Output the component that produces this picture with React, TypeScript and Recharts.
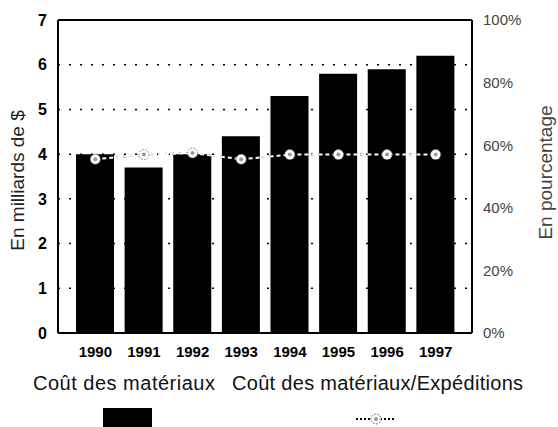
import React from "react";
import {
  ComposedChart,
  Bar,
  Line,
  XAxis,
  YAxis,
  CartesianGrid,
  ReferenceLine,
} from "recharts";

const years = ["1990", "1991", "1992", "1993", "1994", "1995", "1996", "1997"];
const materialCost = [4.0, 3.7, 4.0, 4.4, 5.3, 5.8, 5.9, 6.2];
const costShipRatio = [55.5, 57, 57.5, 55.5, 57, 57, 57, 57];
const leftTicks = [0, 1, 2, 3, 4, 5, 6, 7];
const rightTicks = [0, 20, 40, 60, 80, 100];

const data = years.map((y, i) => ({
  year: y,
  cost: materialCost[i],
  ratio: costShipRatio[i],
}));

const FONT = "'Liberation Sans', Arial, sans-serif";

const Marker = (props: any) => {
  const { cx, cy } = props;
  if (cx == null || cy == null) return null;
  return (
    <g>
      <circle cx={cx} cy={cy} r={5} fill="#fff" stroke="#777" strokeWidth={1} strokeDasharray="1.5 1.5" />
      <circle cx={cx} cy={cy} r={2} fill="#999" />
    </g>
  );
};

export default function App() {
  return (
    <div style={{ position: "absolute", left: 0, top: 0, width: 558, height: 427, background: "#fff", overflow: "hidden", fontFamily: FONT }}>
      <ComposedChart
        width={558}
        height={427}
        data={data}
        margin={{ top: 20, right: 0, left: 0, bottom: 64 }}
      >
        <CartesianGrid
          yAxisId="left"
          vertical={false}
          stroke="#000"
          strokeWidth={1.5}
          strokeDasharray="2 9"
        />
        <XAxis
          dataKey="year"
          height={30}
          padding={{ left: 13, right: 12 }}
          axisLine={{ stroke: "#000", strokeWidth: 2 }}
          tickLine={false}
          tickSize={0}
          tickMargin={13}
          tick={{ fill: "#000", fontSize: 15, fontWeight: 700, fontFamily: FONT }}
        />
        <YAxis
          yAxisId="left"
          width={58}
          domain={[0, 7]}
          ticks={leftTicks}
          axisLine={{ stroke: "#000", strokeWidth: 2 }}
          tickLine={false}
          tickSize={0}
          tickMargin={11}
          tick={{ fill: "#000", fontSize: 16, fontWeight: 700, fontFamily: FONT }}
          label={{
            value: "En milliards de $",
            angle: -90,
            position: "insideLeft",
            offset: 17,
            dy: 4,
            style: { textAnchor: "middle", fill: "#222", fontSize: 19, fontFamily: FONT },
          }}
        />
        <YAxis
          yAxisId="right"
          orientation="right"
          width={86}
          domain={[0, 100]}
          ticks={rightTicks}
          tickFormatter={(v) => `${v}%`}
          axisLine={{ stroke: "#000", strokeWidth: 2 }}
          tickLine={false}
          tickSize={0}
          tickMargin={11}
          tick={{ fill: "#444", fontSize: 15, fontFamily: FONT }}
          label={{
            value: "En pourcentage",
            angle: -90,
            position: "insideRight",
            offset: 13,
            dy: -4,
            style: { textAnchor: "middle", fill: "#444", fontSize: 19, fontFamily: FONT },
          }}
        />
        <ReferenceLine yAxisId="left" y={7} stroke="#000" strokeWidth={2} />
        <Bar
          yAxisId="left"
          dataKey="cost"
          fill="#000"
          barSize={38}
          isAnimationActive={false}
        />
        <Line
          yAxisId="right"
          dataKey="ratio"
          stroke="#000"
          strokeWidth={2}
          strokeDasharray="2 5"
          dot={false}
          activeDot={false}
          isAnimationActive={false}
        />
        <Line
          yAxisId="right"
          dataKey="ratio"
          stroke="#fff"
          strokeWidth={2}
          strokeDasharray="4 3"
          dot={<Marker />}
          activeDot={false}
          isAnimationActive={false}
        />
      </ComposedChart>

      <div style={{ position: "absolute", left: 33, top: 372, fontSize: 20, color: "#111", whiteSpace: "nowrap", letterSpacing: 0.5 }}>
        Coût des matériaux
      </div>
      <div style={{ position: "absolute", left: 232, top: 372, fontSize: 20, color: "#111", whiteSpace: "nowrap", letterSpacing: 0.3 }}>
        Coût des matériaux/Expéditions
      </div>
      <div style={{ position: "absolute", left: 103, top: 408, width: 49, height: 22, background: "#000" }} />
      <svg style={{ position: "absolute", left: 355, top: 410 }} width={42} height={18}>
        <line x1={1} y1={9} x2={41} y2={9} stroke="#000" strokeWidth={2} strokeDasharray="2 2" />
        <circle cx={21} cy={9} r={5} fill="#fff" stroke="#555" strokeWidth={1} strokeDasharray="1.5 1.5" />
        <circle cx={21} cy={9} r={2} fill="#999" />
      </svg>
    </div>
  );
}
